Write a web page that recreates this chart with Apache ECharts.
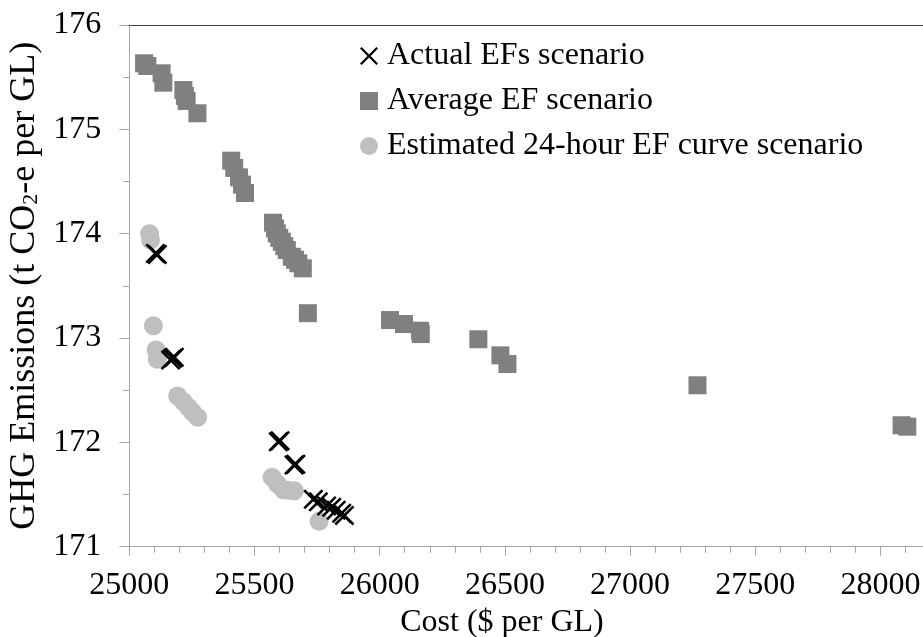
<!DOCTYPE html>
<html>
<head>
<meta charset="utf-8">
<script src="https://cdn.jsdelivr.net/npm/echarts@6/dist/echarts.min.js"></script>
<style>
  html, body { margin: 0; padding: 0; background: #fff; }
  #chart { width: 923px; height: 637px; }
</style>
</head>
<body>
<div id="chart"></div>
<script>
// Cost ($ per GL) and GHG emissions (t CO2-e per GL) for each scenario
const actualCost = [25104, 25112, 25165, 25173, 25180, 25595, 25602, 25658, 25665,
  25735, 25755, 25788, 25808, 25826, 25848, 25859];
const actualGhg = [173.81, 173.80, 172.79, 172.805, 172.815, 172.006, 172.016, 171.783, 171.79,
  171.454, 171.43, 171.39, 171.377, 171.35, 171.32, 171.30];

const averageCost = [25059, 25072, 25129, 25136, 25216, 25222, 25229, 25272,
  25407, 25419, 25438, 25450, 25462,
  25574, 25582, 25589, 25599, 25609, 25619, 25629, 25649, 25662, 25675, 25693,
  25713, 26041, 26097, 26161, 26164, 26394, 26482, 26510, 27269, 28084, 28107];
const averageGhg = [175.633, 175.607, 175.537, 175.447, 175.377, 175.32, 175.272, 175.154,
  174.70, 174.63, 174.54, 174.47, 174.39,
  174.105, 174.05, 174.003, 173.96, 173.923, 173.88, 173.843, 173.779, 173.75, 173.716, 173.668,
  173.238, 173.172, 173.134, 173.070, 173.038, 172.988, 172.834, 172.751, 172.547, 172.164, 172.150];

const estimatedCost = [25081, 25085, 25096, 25107, 25112, 25193, 25216, 25236, 25253, 25273,
  25570, 25592, 25615, 25635, 25659, 25758];
const estimatedGhg = [174.0, 173.94, 173.118, 172.885, 172.796, 172.444, 172.389, 172.336, 172.288, 172.24,
  171.665, 171.60, 171.545, 171.54, 171.536, 171.243];

const seriesNames = ['Actual EFs scenario', 'Average EF scenario', 'Estimated 24-hour EF curve scenario'];

const pairs = (xs, ys) => xs.map((x, i) => [x, ys[i]]);

const FONT = "'Liberation Serif', 'Times New Roman', serif";
// thin saltire drawn as a filled outline
const crossPath = 'path://M0,1.8 L1.8,0 L10,8.2 L18.2,0 L20,1.8 L11.8,10 L20,18.2 L18.2,20 L10,11.8 L1.8,20 L0,18.2 L8.2,10 Z';

const chart = echarts.init(document.getElementById('chart'), null, { renderer: 'canvas' });

chart.setOption({
  backgroundColor: '#ffffff',
  animation: false,
  textStyle: { fontFamily: FONT, color: '#000' },
  grid: {
    left: 129.3, top: 25, right: -7.6, bottom: 90.3,
    containLabel: false,
    outerBoundsMode: 'none'
  },
  legend: {
    data: seriesNames,
    orient: 'vertical',
    left: 355,
    top: 35,
    itemWidth: 18,
    itemHeight: 18,
    itemGap: 13,
    selectedMode: false,
    textStyle: { fontFamily: FONT, fontSize: 32, color: '#000', padding: [0, 0, 0, 4] }
  },
  xAxis: [{
    type: 'value',
    min: 25000,
    max: 28200,
    interval: 500,
    name: 'Cost ($ per GL)',
    nameLocation: 'middle',
    nameGap: 50,
    nameTextStyle: { fontFamily: FONT, fontSize: 32, color: '#000', padding: [0, 56, 0, 0] },
    axisLine: { show: true, onZero: false, lineStyle: { color: '#a6a6a6', width: 1 } },
    axisTick: { show: true, length: 9, lineStyle: { color: '#a6a6a6' } },
    minorTick: { show: true, splitNumber: 5, length: 6, lineStyle: { color: '#a6a6a6' } },
    axisLabel: {
      fontFamily: FONT, fontSize: 32, color: '#000', margin: 23, showMaxLabel: false,
      formatter: (v) => String(v)
    },
    splitLine: { show: false }
  }, {
    type: 'value',
    position: 'top',
    min: 25000,
    max: 28200,
    axisLine: { show: true, onZero: false, lineStyle: { color: '#404040', width: 1 } },
    axisTick: { show: false },
    axisLabel: { show: false },
    splitLine: { show: false }
  }],
  yAxis: {
    type: 'value',
    min: 171,
    max: 176,
    interval: 1,
    name: 'GHG Emissions (t CO{sub|2}-e per GL)',
    nameLocation: 'middle',
    nameGap: 84,
    nameTextStyle: {
      fontFamily: FONT, fontSize: 36, color: '#000',
      rich: { sub: { fontFamily: FONT, fontSize: 22, color: '#000', verticalAlign: 'bottom' } }
    },
    axisLine: { show: true, lineStyle: { color: '#a6a6a6', width: 1 } },
    axisTick: { show: true, length: 10, lineStyle: { color: '#a6a6a6' } },
    minorTick: { show: true, splitNumber: 2, length: 6, lineStyle: { color: '#a6a6a6' } },
    axisLabel: { fontFamily: FONT, fontSize: 32, color: '#000', margin: 28 },
    splitLine: { show: false }
  },
  series: [{
    name: seriesNames[0],
    type: 'scatter',
    z: 4,
    symbol: crossPath,
    symbolSize: 20,
    itemStyle: { color: '#000000', opacity: 1 },
    emphasis: { disabled: true },
    data: pairs(actualCost, actualGhg)
  }, {
    name: seriesNames[1],
    type: 'scatter',
    z: 2,
    symbol: 'rect',
    symbolSize: 18,
    itemStyle: { color: '#808080', opacity: 1 },
    emphasis: { disabled: true },
    data: pairs(averageCost, averageGhg)
  }, {
    name: seriesNames[2],
    type: 'scatter',
    z: 3,
    symbol: 'circle',
    symbolSize: 19,
    itemStyle: { color: '#bfbfbf', opacity: 1 },
    emphasis: { disabled: true },
    data: pairs(estimatedCost, estimatedGhg)
  }]
});
</script>
</body>
</html>
